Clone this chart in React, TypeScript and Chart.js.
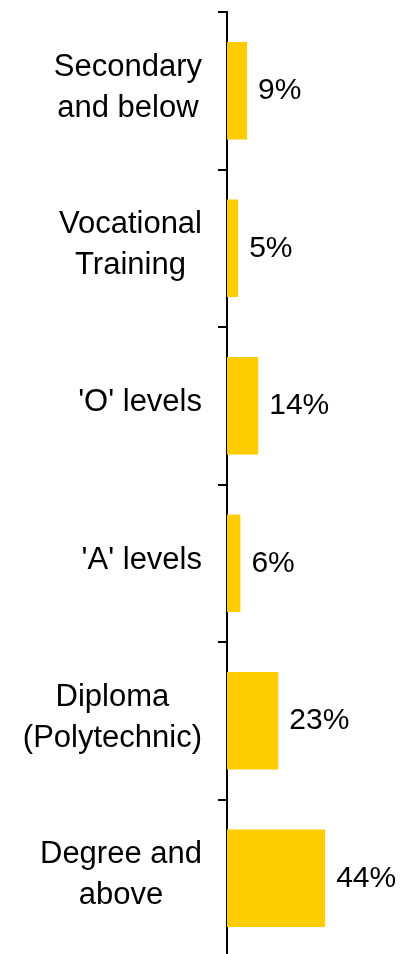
import React, { useEffect, useRef } from "react";
import { Chart, registerables } from "chart.js";

Chart.register(...registerables);

const categories: string[][] = [
  ["Secondary", "and below"],
  ["Vocational", "Training"],
  ["'O' levels"],
  ["'A' levels"],
  ["Diploma", "(Polytechnic)"],
  ["Degree and", "above"],
];
const values: number[] = [9, 5, 14, 6, 23, 44];
const valueLabels: string[] = ["9%", "5%", "14%", "6%", "23%", "44%"];

const FONT = "'Liberation Sans', Arial, sans-serif";
const BAR_COLOR = "#FFCC00";

const labelPlugin = {
  id: "customLabels",
  afterDraw(chart: any) {
    const ctx = chart.ctx as CanvasRenderingContext2D;
    const yScale = chart.scales.y;
    ctx.save();
    ctx.fillStyle = "#000";
    ctx.textBaseline = "middle";
    ctx.font = `31px ${FONT}`;
    const rightEdge = yScale.right - 25;
    const lh = 41;
    categories.forEach((lines, i) => {
      const cy = yScale.getPixelForTick(i) - 3;
      const w = Math.max(...lines.map((l) => ctx.measureText(l).width));
      const cx = rightEdge - w / 2;
      ctx.textAlign = "center";
      lines.forEach((l, j) => {
        const y = cy + (j - (lines.length - 1) / 2) * lh;
        ctx.fillText(l, cx, y);
      });
    });
    ctx.font = `30px ${FONT}`;
    const meta = chart.getDatasetMeta(0);
    ctx.textAlign = "left";
    meta.data.forEach((bar: any, i: number) => {
      ctx.fillText(valueLabels[i], bar.x + 11, bar.y);
    });
    ctx.restore();
  },
};

export default function App() {
  const canvasRef = useRef<HTMLCanvasElement | null>(null);

  useEffect(() => {
    if (!canvasRef.current) return;
    const chart = new Chart(canvasRef.current, {
      type: "bar",
      data: {
        labels: categories.map((c) => c.join(" ")),
        datasets: [
          {
            data: values,
            backgroundColor: BAR_COLOR,
            borderWidth: 0,
            categoryPercentage: 1,
            barPercentage: 0.62,
          },
        ],
      },
      options: {
        indexAxis: "y",
        animation: false,
        responsive: true,
        maintainAspectRatio: false,
        layout: { padding: { top: 12, right: 0, bottom: 0, left: 0 } },
        plugins: {
          legend: { display: false },
          tooltip: { enabled: false },
          title: { display: false },
        },
        scales: {
          x: {
            display: false,
            min: 0,
            max: 78,
          },
          y: {
            type: "category",
            ticks: { display: false },
            border: { display: true, color: "#000", width: 2 },
            grid: {
              display: true,
              drawOnChartArea: false,
              drawTicks: true,
              tickLength: 9,
              color: "#000",
              lineWidth: 2,
              offset: true,
            },
            afterFit: (scale: any) => {
              scale.width = 227;
            },
          },
        },
      },
      plugins: [labelPlugin],
    });
    return () => chart.destroy();
  }, []);

  return (
    <div
      style={{
        position: "absolute",
        left: 0,
        top: 0,
        width: 401,
        height: 957,
        background: "#fff",
      }}
    >
      <canvas ref={canvasRef} />
    </div>
  );
}
